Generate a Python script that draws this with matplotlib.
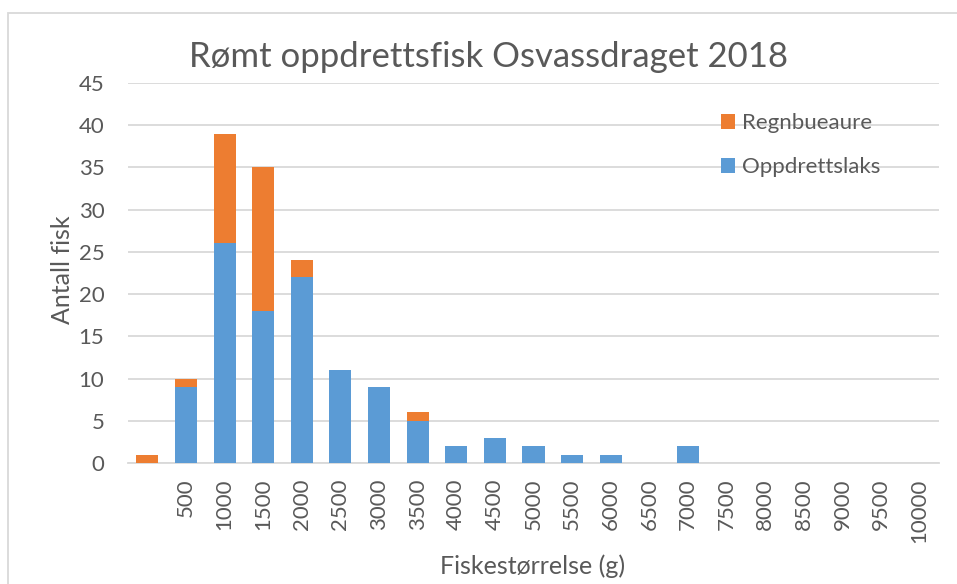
import matplotlib.pyplot as plt
from matplotlib.patches import Rectangle
import numpy as np

plt.rcParams['font.family'] = ['Lato', 'DejaVu Sans']

# data
sizes = [''] + [str(v) for v in range(500, 10001, 500)]
oppdrettslaks = [0, 9, 26, 18, 22, 11, 9, 5, 2, 3, 2, 1, 1, 0, 2, 0, 0, 0, 0, 0, 0]
regnbueaure = [1, 1, 13, 17, 2, 0, 0, 1, 0, 0, 0, 0, 0, 0, 0, 0, 0, 0, 0, 0, 0]

blue = '#5B9BD5'
orange = '#ED7D31'
grid = '#D9D9D9'
txt = '#595959'

fig = plt.figure(figsize=(9.57, 5.84), dpi=100)
ax = fig.add_axes([128/957, 1-463/584, (939-128)/957, (463-83)/584])

x = np.arange(len(sizes))
b1 = ax.bar(x, oppdrettslaks, width=0.57, color=blue, label='Oppdrettslaks', zorder=3)
b2 = ax.bar(x, regnbueaure, width=0.57, bottom=oppdrettslaks, color=orange,
            label='Regnbueaure', zorder=3)

ax.set_xlim(-0.5, len(sizes) - 0.5)
ax.set_ylim(0, 45)
ax.set_yticks(range(0, 46, 5))
ax.set_xticks(x)
ax.set_xticklabels(sizes, rotation=90, va='top', ha='center')
ax.tick_params(axis='both', length=0, labelsize=16, labelcolor=txt)
ax.tick_params(axis='y', pad=17)
ax.tick_params(axis='x', pad=11)
ax.grid(axis='y', color=grid, linewidth=1.3, zorder=0)
for s in ['top', 'right', 'left']:
    ax.spines[s].set_visible(False)
ax.spines['bottom'].set_color(grid)
ax.spines['bottom'].set_linewidth(1.3)

fig.text(488/957, 1-57/584, 'Rømt oppdrettsfisk Osvassdraget 2018', ha='center', va='center',
         fontsize=25, color=txt)
fig.text(62/957, 1-270/584, 'Antall fisk', rotation=90, ha='center', va='center',
         fontsize=18, color=txt)
fig.text(533/957, 1-566/584, 'Fiskestørrelse (g)', ha='center', va='center',
         fontsize=18, color=txt)

leg = ax.legend([b2, b1], ['Regnbueaure', 'Oppdrettslaks'], loc='upper left',
                bbox_to_anchor=(712/957, 1-104/584), bbox_transform=fig.transFigure,
                frameon=False, fontsize=16, handlelength=0.65, handleheight=0.65,
                handletextpad=0.3, labelspacing=1.1, borderaxespad=0)
for t in leg.get_texts():
    t.set_color(txt)

fig.add_artist(Rectangle((8/957, -0.1), 2, (584-13)/584 + 0.1, transform=fig.transFigure,
                         fill=False, edgecolor=grid, linewidth=1.3))

fig.savefig('out.png', dpi=100, facecolor='white')
